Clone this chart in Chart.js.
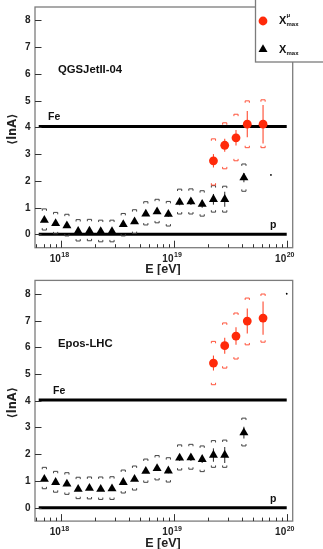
<!DOCTYPE html>
<html>
<head>
<meta charset="utf-8">
<script src="https://cdn.jsdelivr.net/npm/chart.js@4.4.0/dist/chart.umd.min.js"></script>
<style>
  html, body { margin: 0; padding: 0; background: #fff; width: 323px; height: 549px; overflow: hidden; }
  canvas { position: absolute; left: 0; }
  #qgs { top: 0; }
  #epos { top: 275px; }
</style>
</head>
<body>
<canvas id="qgs" width="323" height="275"></canvas>
<canvas id="epos" width="323" height="274"></canvas>
<script>
// ---- data ---------------------------------------------------------------
// log10(E/eV) of the energy bins
const lgE   = [17.85, 17.95, 18.05, 18.15, 18.25, 18.35, 18.45, 18.55, 18.65,
               18.75, 18.85, 18.95, 19.05, 19.15, 19.25, 19.35, 19.45, 19.62];
const lgEMu = [19.35, 19.45, 19.55, 19.65, 19.79];

// QGSJetII-04: <lnA> from Xmax
const qgsXmax      = [0.53, 0.41, 0.32, 0.12, 0.13, 0.11, 0.11, 0.37, 0.47,
                      0.76, 0.85, 0.75, 1.20, 1.22, 1.13, 1.31, 1.31, 2.12];
const qgsXmaxStat  = [0.04, 0.04, 0.05, 0.05, 0.05, 0.05, 0.05, 0.06, 0.06,
                      0.07, 0.08, 0.09, 0.11, 0.12, 0.14, 0.20, 0.28, 0.17];
const qgsXmaxSysUp = [0.95, 0.82, 0.75, 0.55, 0.56, 0.53, 0.53, 0.78, 0.92,
                      1.22, 1.31, 1.23, 1.69, 1.70, 1.63, 1.82, 1.80, 2.63];
const qgsXmaxSysLo = [0.16, 0.02, -0.06, -0.25, -0.24, -0.28, -0.28, -0.06, 0.03,
                      0.35, 0.43, 0.31, 0.76, 0.76, 0.68, 0.83, 0.83, 1.61];
// QGSJetII-04: <lnA> from Xmax^mu
const qgsMu      = [2.75, 3.33, 3.61, 4.12, 4.12];
const qgsMuStat  = [0.25, 0.24, 0.29, 0.49, 0.72];
const qgsMuSysUp = [3.57, 4.17, 4.49, 4.99, 5.03];
const qgsMuSysLo = [1.84, 2.45, 2.75, 3.24, 3.24];

// EPOS-LHC: <lnA> from Xmax
const eposXmax      = [1.07, 0.95, 0.89, 0.69, 0.73, 0.69, 0.71, 0.95, 1.07,
                       1.37, 1.47, 1.38, 1.86, 1.87, 1.81, 1.97, 1.97, 2.81];
const eposXmaxStat  = [0.04, 0.04, 0.05, 0.05, 0.05, 0.05, 0.05, 0.06, 0.06,
                       0.07, 0.08, 0.09, 0.11, 0.12, 0.14, 0.25, 0.30, 0.22];
const eposXmaxSysUp = [1.51, 1.36, 1.31, 1.14, 1.15, 1.15, 1.16, 1.41, 1.56,
                       1.82, 1.95, 1.87, 2.35, 2.37, 2.31, 2.51, 2.53, 3.35];
const eposXmaxSysLo = [0.71, 0.58, 0.50, 0.34, 0.33, 0.31, 0.31, 0.55, 0.66,
                       0.95, 1.04, 0.96, 1.41, 1.44, 1.35, 1.51, 1.51, 2.31];
// EPOS-LHC: <lnA> from Xmax^mu
const eposMu      = [5.41, 6.06, 6.42, 6.98, 7.09];
const eposMuStat  = [0.28, 0.30, 0.33, 0.47, 0.62];
const eposMuSysUp = [6.22, 6.91, 7.28, 7.84, 7.99];
const eposMuSysLo = [4.60, 5.22, 5.56, 6.09, 6.19];

// reference compositions
const lnAIron   = 4.03;
const lnAProton = 0;
const refLineLgE = [17.8, 20.0];

// stray markers at the right edge
const qgsStray  = [{ lg: 19.86, v: 2.22 }];
const eposStray = [{ lg: 20.0,  v: 8.0 }];

// axes
const yTickValues = [0, 1, 2, 3, 4, 5, 6, 7, 8];
const yRange      = [-0.5, 8.5];
const xDecades    = [18, 19, 20];
const lgRange     = [17.767, 20.053];

// ---- drawing helpers ----------------------------------------------------
const FONT = '"Liberation Sans", Arial, Helvetica, sans-serif';
const RED = '#ff2a0a';
const RED_BAR = '#ff4a30';

function bracket(ctx, x, y, opensDown) {
  const w = 2.1, h = 1.9;
  const s = opensDown ? 1 : -1;
  ctx.beginPath();
  ctx.moveTo(x - w, y + s * h);
  ctx.lineTo(x - w, y);
  ctx.lineTo(x + w, y);
  ctx.lineTo(x + w, y + s * h);
  ctx.stroke();
}

function triangle(ctx, x, y, r) {
  ctx.beginPath();
  ctx.moveTo(x, y - r);
  ctx.lineTo(x + r * Math.sin(2 * Math.PI / 3), y + r / 2);
  ctx.lineTo(x - r * Math.sin(2 * Math.PI / 3), y + r / 2);
  ctx.closePath();
  ctx.fill();
}

const panelDecor = {
  id: 'panelDecor',
  // statistical bars and systematic brackets, drawn just under their markers
  beforeDatasetDraw(chart, args) {
    const ds = chart.data.datasets[args.index];
    if (!ds.stat) return;
    const { ctx, scales: { x, y } } = chart;
    ctx.save();
    ctx.strokeStyle = ds.barColor;
    ds.data.forEach((p, i) => {
      const px = x.getPixelForValue(p.x);
      ctx.lineWidth = 1.1;
      ctx.beginPath();
      ctx.moveTo(px, y.getPixelForValue(p.y - ds.stat[i]));
      ctx.lineTo(px, y.getPixelForValue(p.y + ds.stat[i]));
      ctx.stroke();
      ctx.lineWidth = 0.95;
      bracket(ctx, px, y.getPixelForValue(ds.sysUp[i]), true);
      bracket(ctx, px, y.getPixelForValue(ds.sysLo[i]), false);
    });
    ctx.restore();
  },
  afterDraw(chart, _args, opts) {
    const { ctx, chartArea: a, scales: { x, y } } = chart;
    ctx.save();

    // frame
    ctx.strokeStyle = '#7c7c7c';
    ctx.lineWidth = 1.3;
    ctx.strokeRect(a.left, a.top, a.right - a.left, a.bottom - a.top);

    // y ticks + labels
    ctx.strokeStyle = '#333';
    ctx.lineWidth = 1;
    ctx.fillStyle = '#222';
    ctx.font = 'bold 10px ' + FONT;
    ctx.textAlign = 'right';
    ctx.textBaseline = 'middle';
    yTickValues.forEach(v => {
      const py = Math.round(y.getPixelForValue(v)) + 0.5;
      ctx.beginPath();
      ctx.moveTo(a.left, py);
      ctx.lineTo(a.left + 6.5, py);
      ctx.stroke();
      ctx.fillText(String(v), a.left - 4.5, py);
    });

    // x ticks: decades and their 2..9 sub-divisions
    for (let d = 17; d <= 20; d++) {
      for (let m = 1; m <= 9; m++) {
        const e = m * Math.pow(10, d);
        if (e < x.min || e > x.max) continue;
        const px = Math.round(x.getPixelForValue(e)) + 0.5;
        ctx.beginPath();
        ctx.moveTo(px, a.bottom);
        ctx.lineTo(px, a.bottom - (m === 1 ? 7 : 3.5));
        ctx.stroke();
      }
    }
    xDecades.forEach(d => {
      const px = x.getPixelForValue(Math.pow(10, d));
      const by = a.bottom + 11.5;
      ctx.font = 'bold 10px ' + FONT;
      ctx.textAlign = 'right';
      ctx.fillText('10', px - 0.5, by);
      ctx.font = 'bold 7px ' + FONT;
      ctx.textAlign = 'left';
      ctx.fillText(String(d), px, by - 4);
    });

    // axis titles
    ctx.font = 'bold 12.5px ' + FONT;
    ctx.textAlign = 'center';
    ctx.fillText('E [eV]', 163, a.bottom + 22);
    ctx.save();
    ctx.translate(13, (a.top + a.bottom) / 2 + 2);
    ctx.rotate(-Math.PI / 2);
    ctx.font = 'bold 11.5px "DejaVu Sans", ' + FONT;
    ctx.fillText('\u27E8lnA\u27E9', 0, 0);
    ctx.restore();

    // model name and reference labels
    ctx.fillStyle = '#111';
    ctx.textAlign = 'left';
    ctx.font = 'bold 11.3px ' + FONT;
    ctx.fillText(opts.model, 58, a.top + 63);
    ctx.font = 'bold 10.5px ' + FONT;
    ctx.fillText('Fe', opts.feX, y.getPixelForValue(lnAIron) - 9);
    ctx.fillText('p', 270, y.getPixelForValue(lnAProton) - 9);

    // legend box
    if (opts.legend) {
      ctx.fillStyle = '#fff';
      ctx.fillRect(255, -2, 70, 64);
      ctx.strokeStyle = '#7c7c7c';
      ctx.lineWidth = 1.3;
      ctx.strokeRect(255.5, -2, 70, 64);

      ctx.fillStyle = RED;
      ctx.beginPath();
      ctx.arc(263, 21, 4.4, 0, 2 * Math.PI);
      ctx.fill();
      ctx.fillStyle = '#000';
      triangle(ctx, 263, 49.5, 5.2);

      ctx.fillStyle = '#111';
      ctx.textBaseline = 'middle';
      ctx.font = 'bold 11px ' + FONT;
      ctx.fillText('X', 279, 21);
      ctx.fillText('X', 279, 50);
      ctx.font = 'bold 6px ' + FONT;
      ctx.fillText('\u03BC', 286.5, 15);
      ctx.fillText('max', 286.5, 24.5);
      ctx.fillText('max', 286.5, 53.5);
    }
    ctx.restore();
  }
};

function points(lgs, vals) {
  return lgs.map((l, i) => ({ x: Math.pow(10, l), y: vals[i] }));
}

function refLine(v) {
  return {
    type: 'line',
    data: refLineLgE.map(l => ({ x: Math.pow(10, l), y: v })),
    borderColor: '#000',
    borderWidth: 3,
    pointRadius: 0,
    showLine: true,
    fill: false
  };
}

function makePanel(id, pad, s, decor) {
  return new Chart(document.getElementById(id), {
    type: 'scatter',
    data: {
      datasets: [
        {
          data: points(lgEMu, s.mu),
          pointStyle: 'circle', pointRadius: 4.4,
          backgroundColor: RED, borderWidth: 0,
          stat: s.muStat, sysUp: s.muSysUp, sysLo: s.muSysLo, barColor: RED_BAR
        },
        {
          data: points(lgE, s.xmax),
          pointStyle: 'triangle', pointRadius: 5.2,
          backgroundColor: '#000', borderWidth: 0,
          stat: s.xmaxStat, sysUp: s.xmaxSysUp, sysLo: s.xmaxSysLo, barColor: '#3a3a3a'
        },
        {
          data: s.stray.map(p => ({ x: Math.pow(10, p.lg), y: p.v })),
          pointStyle: 'circle', pointRadius: 0.9,
          backgroundColor: '#000', borderWidth: 0
        },
        refLine(lnAIron),
        refLine(lnAProton)
      ]
    },
    options: {
      responsive: false,
      animation: false,
      devicePixelRatio: 1,
      events: [],
      layout: { padding: pad },
      scales: {
        x: {
          type: 'logarithmic', display: false, bounds: 'data',
          min: Math.pow(10, lgRange[0]), max: Math.pow(10, lgRange[1])
        },
        y: {
          type: 'linear', display: false, bounds: 'data',
          min: yRange[0], max: yRange[1]
        }
      },
      plugins: {
        legend: { display: false },
        tooltip: { enabled: false },
        panelDecor: decor
      }
    },
    plugins: [panelDecor]
  });
}

makePanel('qgs', { left: 35, right: 30.3, top: 7, bottom: 27.3 }, {
  xmax: qgsXmax, xmaxStat: qgsXmaxStat, xmaxSysUp: qgsXmaxSysUp, xmaxSysLo: qgsXmaxSysLo,
  mu: qgsMu, muStat: qgsMuStat, muSysUp: qgsMuSysUp, muSysLo: qgsMuSysLo,
  stray: qgsStray
}, { model: 'QGSJetII-04', feX: 48, legend: true });

makePanel('epos', { left: 35, right: 30.3, top: 5.4, bottom: 27.9 }, {
  xmax: eposXmax, xmaxStat: eposXmaxStat, xmaxSysUp: eposXmaxSysUp, xmaxSysLo: eposXmaxSysLo,
  mu: eposMu, muStat: eposMuStat, muSysUp: eposMuSysUp, muSysLo: eposMuSysLo,
  stray: eposStray
}, { model: 'Epos-LHC', feX: 53, legend: false });
</script>
</body>
</html>
